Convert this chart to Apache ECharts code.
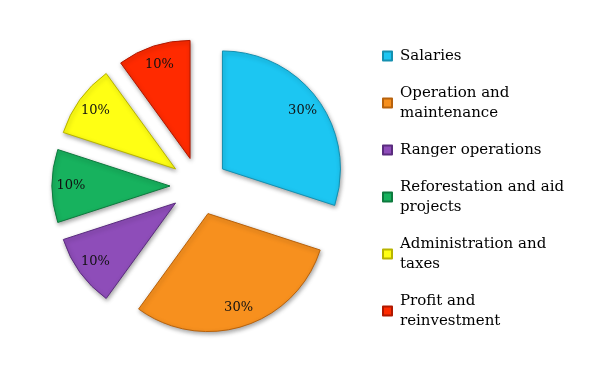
<!DOCTYPE html>
<html>
<head>
<meta charset="utf-8">
<script src="https://cdn.jsdelivr.net/npm/echarts@6/dist/echarts.min.js"></script>
<style>html,body{margin:0;padding:0;background:#fff}#c{width:600px;height:370px}</style>
</head>
<body>
<div id="c"></div>
<script>
const categories = ['Salaries', 'Operation and maintenance', 'Ranger operations', 'Reforestation and aid projects', 'Administration and taxes', 'Profit and reinvestment'];
const legendLabels = ['Salaries', 'Operation and\nmaintenance', 'Ranger operations', 'Reforestation and aid\nprojects', 'Administration and\ntaxes', 'Profit and\nreinvestment'];
const values = [30, 30, 10, 10, 10, 10];
const colors = ['#1CC6F2', '#F7901E', '#8E4DB9', '#17B25E', '#FFFF14', '#FF2A00'];
const borders = ['#1590B0', '#B8620C', '#5A2C7E', '#0E7A3E', '#B8B400', '#B01800'];

const chart = echarts.init(document.getElementById('c'));
const mainData = categories.map((n, i) => ({
  name: n, value: values[i], selected: true,
  itemStyle: { color: colors[i], borderColor: borders[i] }
}));
const labelData = categories.map((n, i) => ({ name: n, value: values[i], selected: true }));

chart.setOption({
  backgroundColor: '#fff',
  animation: false,
  color: colors,
  legend: {
    orient: 'vertical',
    left: 382,
    top: 46,
    padding: 0,
    itemWidth: 9,
    itemHeight: 9,
    itemGap: 17,
    icon: 'rect',
    selectedMode: false,
    data: categories,
    formatter: function (name) { return legendLabels[categories.indexOf(name)]; },
    textStyle: { fontFamily: 'DejaVu Serif', fontSize: 15, color: '#000', lineHeight: 20, padding: [0, 0, 0, 3] }
  },
  series: [
    {
      type: 'pie',
      center: [199, 186],
      radius: [0, 118],
      startAngle: 90,
      clockwise: true,
      selectedMode: 'multiple',
      selectedOffset: 29,
      silent: true,
      label: { show: false },
      labelLine: { show: false },
      itemStyle: { borderWidth: 1, shadowBlur: 4, shadowOffsetX: 1, shadowOffsetY: 2, shadowColor: 'rgba(0,0,0,0.35)' },
      emphasis: { disabled: true },
      data: mainData
    },
    {
      type: 'pie',
      center: [199, 186],
      radius: [74, 118],
      startAngle: 90,
      clockwise: true,
      selectedMode: 'multiple',
      selectedOffset: 29,
      silent: true,
      itemStyle: { color: 'rgba(0,0,0,0)' },
      label: { show: true, position: 'inside', formatter: '{d}%', fontFamily: 'DejaVu Serif', fontSize: 13, color: '#111' },
      labelLine: { show: false },
      emphasis: { disabled: true },
      data: labelData
    }
  ]
});
</script>
</body>
</html>
